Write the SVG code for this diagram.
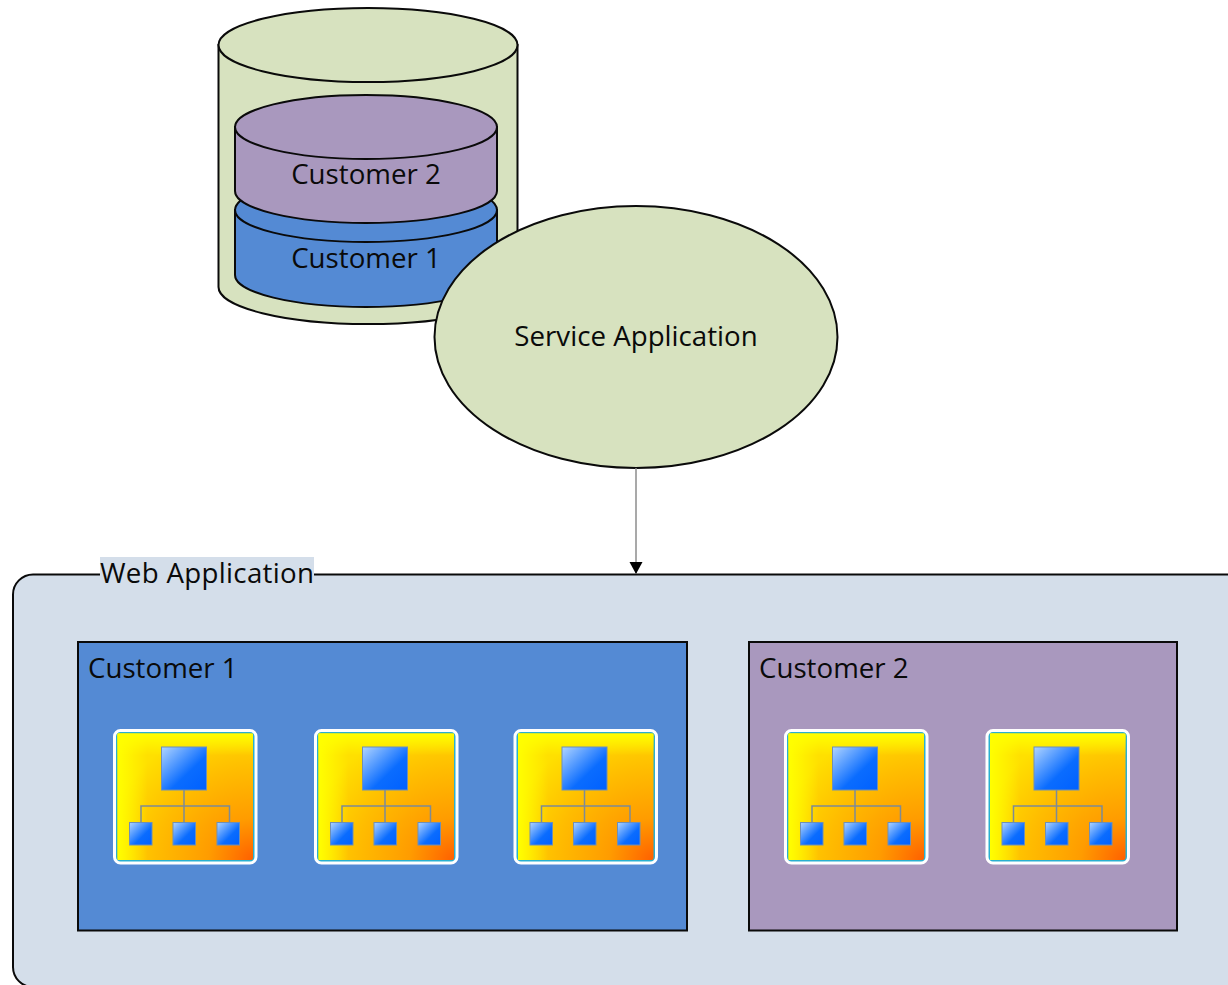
<svg xmlns="http://www.w3.org/2000/svg" width="1228" height="985" viewBox="0 0 1228 985">
<style>
text{font-family:"Open Sans","Noto Sans","Liberation Sans",sans-serif;font-size:27.700px;fill:#0a0a0a}
.m{text-anchor:middle}
.s{stroke:#0a0a0a;stroke-width:2}
.g{fill:#d7e2bf}.p{fill:#a998be}.b{fill:#548ad4}
.sq{stroke:#6f8fb5;stroke-width:1}
</style>
<defs>
<radialGradient id="bg" cx="1" cy="1" r="1.1" fx="1" fy="1"><stop offset="0" stop-color="#ff6000"/><stop offset="0.3" stop-color="#ff9c00"/><stop offset="0.65" stop-color="#ffbc00"/><stop offset="1" stop-color="#ffe000"/></radialGradient>
<linearGradient id="yl" x1="0" y1="0" x2="1" y2="0"><stop offset="0" stop-color="#ffff00"/><stop offset="1" stop-color="#ffff00" stop-opacity="0"/></linearGradient>
<linearGradient id="yt" x1="0" y1="0" x2="0" y2="1"><stop offset="0" stop-color="#ffff00"/><stop offset="1" stop-color="#ffff00" stop-opacity="0"/></linearGradient>
<linearGradient id="sqg" x1="0" y1="0" x2="1" y2="1"><stop offset="0" stop-color="#b0d4ff"/><stop offset="0.6" stop-color="#0a6cff"/><stop offset="1" stop-color="#0060ff"/></linearGradient>
<marker id="arr" markerUnits="userSpaceOnUse" markerWidth="14" markerHeight="14" refX="12" refY="6.5" orient="auto"><path d="M0 0L12 6.5L0 13z" fill="#000"/></marker>
<g id="icon">
<rect x="114.500" y="730.500" width="141.500" height="132.500" rx="6" fill="#2ab0d0" stroke="#fff" stroke-width="3"/>
<rect x="117.500" y="733.500" width="135.500" height="126.500" rx="2" fill="url(#bg)"/>
<rect x="117.500" y="733.500" width="30" height="126.500" fill="url(#yl)"/>
<rect x="117.500" y="733.500" width="135.500" height="22" fill="url(#yt)"/>
<path d="M184 790V822M141 822V806H229.500V822" fill="none" stroke="#7d8a96" stroke-width="1.500"/>
<rect class="sq" x="161.500" y="747" width="45" height="43" fill="url(#sqg)"/>
<rect class="sq" x="129.500" y="822.500" width="22.500" height="22.500" fill="url(#sqg)"/>
<rect class="sq" x="173" y="822.500" width="22.500" height="22.500" fill="url(#sqg)"/>
<rect class="sq" x="217" y="822.500" width="22.500" height="22.500" fill="url(#sqg)"/>
</g>
</defs>
<rect width="1228" height="985" fill="#fff"/>
<g id="database">
<path class="g s" d="M218.500 45V287A149.500 37 0 0 0 517.500 287V45z"/>
<ellipse class="g s" cx="368" cy="45" rx="149.500" ry="37"/>
</g>
<g id="db-customer-1">
<path class="b s" d="M235 210V275A131 32 0 0 0 497 275V210z"/>
<ellipse class="b s" cx="366" cy="210" rx="131" ry="32"/>
<text class="m" x="366" y="268">Customer 1</text>
</g>
<g id="db-customer-2">
<path class="p s" d="M235 127V191A131 32 0 0 0 497 191V127z"/>
<ellipse class="p s" cx="366" cy="127" rx="131" ry="32"/>
<text class="m" x="366" y="184">Customer 2</text>
</g>
<g id="service-application">
<ellipse class="g s" cx="636" cy="337" rx="201.500" ry="131"/>
<text class="m" x="636" y="346">Service Application</text>
</g>
<g id="web-application">
<rect x="13" y="574.500" width="1235" height="412.500" rx="20" fill="#d4deea" class="s"/>
<rect x="100" y="557" width="214" height="33" fill="#d4deea"/>
<text x="100" y="583" textLength="214">Web Application</text>
</g>
<g id="customer-1">
<rect class="b s" x="78" y="642" width="609" height="288.500"/>
<text x="88" y="678">Customer 1</text>
</g>
<g id="customer-2">
<rect class="p s" x="749" y="642" width="428" height="288.500"/>
<text x="759" y="678">Customer 2</text>
</g>
<g id="site-1"><use href="#icon"/></g>
<g id="site-2"><use href="#icon" x="201"/></g>
<g id="site-3"><use href="#icon" x="400.500"/></g>
<g id="site-4"><use href="#icon" x="671"/></g>
<g id="site-5"><use href="#icon" x="872.500"/></g>
<g id="connectors">
<line x1="636" y1="468" x2="636" y2="574" stroke="#8c8c8c" stroke-width="1.500" marker-end="url(#arr)"/>
</g>
</svg>
